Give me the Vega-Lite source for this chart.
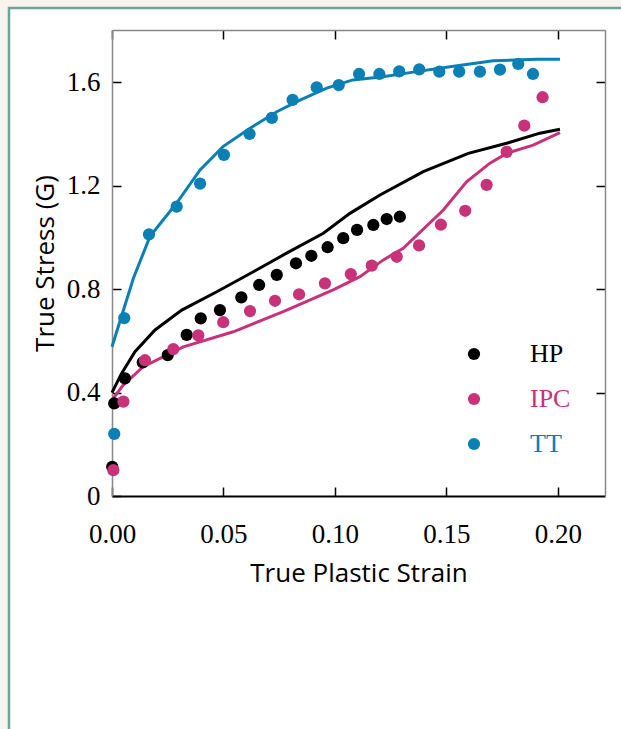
{
  "$schema": "https://vega.github.io/schema/vega-lite/v6.json",
  "autosize": {"type": "none"},
  "width": 493,
  "height": 466,
  "padding": {"left": 112, "top": 30, "right": 16, "bottom": 233},
  "background": "#ffffff",
  "config": {
    "view": {"stroke": null},
    "axis": {"grid": false, "labelFlush": false, "labelOverlap": false, "labelFont": "Liberation Serif", "labelFontSize": 27, "labelColor": "#000", "titleFont": "Open Sans", "titleFontSize": 26, "titleFontWeight": "normal", "titleColor": "#000", "tickColor": "#000", "domainColor": "#888"}
  },
  "datasets": {
    "d": [
      {"series": "TT", "kind": "pt", "strain": 0.001, "stress": 0.24},
      {"series": "TT", "kind": "pt", "strain": 0.0055, "stress": 0.688},
      {"series": "TT", "kind": "pt", "strain": 0.0166, "stress": 1.012},
      {"series": "TT", "kind": "pt", "strain": 0.029, "stress": 1.119},
      {"series": "TT", "kind": "pt", "strain": 0.0395, "stress": 1.208},
      {"series": "TT", "kind": "pt", "strain": 0.0502, "stress": 1.319},
      {"series": "TT", "kind": "pt", "strain": 0.0617, "stress": 1.4},
      {"series": "TT", "kind": "pt", "strain": 0.0717, "stress": 1.462},
      {"series": "TT", "kind": "pt", "strain": 0.081, "stress": 1.532},
      {"series": "TT", "kind": "pt", "strain": 0.0918, "stress": 1.58},
      {"series": "TT", "kind": "pt", "strain": 0.1017, "stress": 1.589},
      {"series": "TT", "kind": "pt", "strain": 0.1108, "stress": 1.632},
      {"series": "TT", "kind": "pt", "strain": 0.1199, "stress": 1.632},
      {"series": "TT", "kind": "pt", "strain": 0.1288, "stress": 1.642},
      {"series": "TT", "kind": "pt", "strain": 0.1378, "stress": 1.65},
      {"series": "TT", "kind": "pt", "strain": 0.1468, "stress": 1.641},
      {"series": "TT", "kind": "pt", "strain": 0.1557, "stress": 1.641},
      {"series": "TT", "kind": "pt", "strain": 0.165, "stress": 1.641},
      {"series": "TT", "kind": "pt", "strain": 0.174, "stress": 1.649},
      {"series": "TT", "kind": "pt", "strain": 0.1822, "stress": 1.671},
      {"series": "TT", "kind": "pt", "strain": 0.1888, "stress": 1.632},
      {"series": "TT", "kind": "ln", "strain": 0.0, "stress": 0.577},
      {"series": "TT", "kind": "ln", "strain": 0.0096, "stress": 0.842},
      {"series": "TT", "kind": "ln", "strain": 0.017, "stress": 1.003},
      {"series": "TT", "kind": "ln", "strain": 0.029, "stress": 1.133},
      {"series": "TT", "kind": "ln", "strain": 0.0395, "stress": 1.261},
      {"series": "TT", "kind": "ln", "strain": 0.0498, "stress": 1.351},
      {"series": "TT", "kind": "ln", "strain": 0.0619, "stress": 1.422},
      {"series": "TT", "kind": "ln", "strain": 0.0739, "stress": 1.486},
      {"series": "TT", "kind": "ln", "strain": 0.0843, "stress": 1.531},
      {"series": "TT", "kind": "ln", "strain": 0.0963, "stress": 1.577},
      {"series": "TT", "kind": "ln", "strain": 0.108, "stress": 1.609},
      {"series": "TT", "kind": "ln", "strain": 0.1215, "stress": 1.621},
      {"series": "TT", "kind": "ln", "strain": 0.1366, "stress": 1.641},
      {"series": "TT", "kind": "ln", "strain": 0.1516, "stress": 1.66},
      {"series": "TT", "kind": "ln", "strain": 0.171, "stress": 1.683},
      {"series": "TT", "kind": "ln", "strain": 0.1904, "stress": 1.689},
      {"series": "TT", "kind": "ln", "strain": 0.2009, "stress": 1.689},
      {"series": "HP", "kind": "pt", "strain": 0.0001, "stress": 0.113},
      {"series": "HP", "kind": "pt", "strain": 0.001, "stress": 0.358},
      {"series": "HP", "kind": "pt", "strain": 0.0058, "stress": 0.455},
      {"series": "HP", "kind": "pt", "strain": 0.0138, "stress": 0.517},
      {"series": "HP", "kind": "pt", "strain": 0.025, "stress": 0.545},
      {"series": "HP", "kind": "pt", "strain": 0.0335, "stress": 0.623},
      {"series": "HP", "kind": "pt", "strain": 0.0398, "stress": 0.687},
      {"series": "HP", "kind": "pt", "strain": 0.0484, "stress": 0.719},
      {"series": "HP", "kind": "pt", "strain": 0.058, "stress": 0.768},
      {"series": "HP", "kind": "pt", "strain": 0.066, "stress": 0.816},
      {"series": "HP", "kind": "pt", "strain": 0.0739, "stress": 0.855},
      {"series": "HP", "kind": "pt", "strain": 0.0825, "stress": 0.9},
      {"series": "HP", "kind": "pt", "strain": 0.0894, "stress": 0.929},
      {"series": "HP", "kind": "pt", "strain": 0.0967, "stress": 0.962},
      {"series": "HP", "kind": "pt", "strain": 0.1037, "stress": 0.997},
      {"series": "HP", "kind": "pt", "strain": 0.1099, "stress": 1.029},
      {"series": "HP", "kind": "pt", "strain": 0.1172, "stress": 1.048},
      {"series": "HP", "kind": "pt", "strain": 0.1232, "stress": 1.071},
      {"series": "HP", "kind": "pt", "strain": 0.1291, "stress": 1.08},
      {"series": "HP", "kind": "ln", "strain": 0.0, "stress": 0.4},
      {"series": "HP", "kind": "ln", "strain": 0.0043, "stress": 0.474},
      {"series": "HP", "kind": "ln", "strain": 0.0103, "stress": 0.558},
      {"series": "HP", "kind": "ln", "strain": 0.0193, "stress": 0.642},
      {"series": "HP", "kind": "ln", "strain": 0.0313, "stress": 0.719},
      {"series": "HP", "kind": "ln", "strain": 0.047, "stress": 0.79},
      {"series": "HP", "kind": "ln", "strain": 0.0634, "stress": 0.867},
      {"series": "HP", "kind": "ln", "strain": 0.0783, "stress": 0.939},
      {"series": "HP", "kind": "ln", "strain": 0.0948, "stress": 1.016},
      {"series": "HP", "kind": "ln", "strain": 0.1067, "stress": 1.093},
      {"series": "HP", "kind": "ln", "strain": 0.1202, "stress": 1.164},
      {"series": "HP", "kind": "ln", "strain": 0.1396, "stress": 1.254},
      {"series": "HP", "kind": "ln", "strain": 0.1598, "stress": 1.325},
      {"series": "HP", "kind": "ln", "strain": 0.177, "stress": 1.364},
      {"series": "HP", "kind": "ln", "strain": 0.1919, "stress": 1.403},
      {"series": "HP", "kind": "ln", "strain": 0.2009, "stress": 1.418},
      {"series": "IPC", "kind": "pt", "strain": 0.0006, "stress": 0.1},
      {"series": "IPC", "kind": "pt", "strain": 0.0051, "stress": 0.365},
      {"series": "IPC", "kind": "pt", "strain": 0.0148, "stress": 0.525},
      {"series": "IPC", "kind": "pt", "strain": 0.0275, "stress": 0.568},
      {"series": "IPC", "kind": "pt", "strain": 0.0387, "stress": 0.621},
      {"series": "IPC", "kind": "pt", "strain": 0.0499, "stress": 0.672},
      {"series": "IPC", "kind": "pt", "strain": 0.0619, "stress": 0.715},
      {"series": "IPC", "kind": "pt", "strain": 0.0731, "stress": 0.755},
      {"series": "IPC", "kind": "pt", "strain": 0.0839, "stress": 0.78},
      {"series": "IPC", "kind": "pt", "strain": 0.0955, "stress": 0.822},
      {"series": "IPC", "kind": "pt", "strain": 0.1071, "stress": 0.858},
      {"series": "IPC", "kind": "pt", "strain": 0.1165, "stress": 0.891},
      {"series": "IPC", "kind": "pt", "strain": 0.1277, "stress": 0.925},
      {"series": "IPC", "kind": "pt", "strain": 0.1377, "stress": 0.969},
      {"series": "IPC", "kind": "pt", "strain": 0.1475, "stress": 1.049},
      {"series": "IPC", "kind": "pt", "strain": 0.1584, "stress": 1.103},
      {"series": "IPC", "kind": "pt", "strain": 0.168, "stress": 1.203},
      {"series": "IPC", "kind": "pt", "strain": 0.177, "stress": 1.331},
      {"series": "IPC", "kind": "pt", "strain": 0.1849, "stress": 1.432},
      {"series": "IPC", "kind": "pt", "strain": 0.1931, "stress": 1.542},
      {"series": "IPC", "kind": "ln", "strain": 0.0, "stress": 0.371},
      {"series": "IPC", "kind": "ln", "strain": 0.005, "stress": 0.429},
      {"series": "IPC", "kind": "ln", "strain": 0.014, "stress": 0.5},
      {"series": "IPC", "kind": "ln", "strain": 0.032, "stress": 0.577},
      {"series": "IPC", "kind": "ln", "strain": 0.0544, "stress": 0.635},
      {"series": "IPC", "kind": "ln", "strain": 0.0768, "stress": 0.713},
      {"series": "IPC", "kind": "ln", "strain": 0.0992, "stress": 0.797},
      {"series": "IPC", "kind": "ln", "strain": 0.1112, "stress": 0.848},
      {"series": "IPC", "kind": "ln", "strain": 0.1217, "stress": 0.913},
      {"series": "IPC", "kind": "ln", "strain": 0.1306, "stress": 0.958},
      {"series": "IPC", "kind": "ln", "strain": 0.1486, "stress": 1.106},
      {"series": "IPC", "kind": "ln", "strain": 0.159, "stress": 1.215},
      {"series": "IPC", "kind": "ln", "strain": 0.1695, "stress": 1.287},
      {"series": "IPC", "kind": "ln", "strain": 0.177, "stress": 1.325},
      {"series": "IPC", "kind": "ln", "strain": 0.1889, "stress": 1.357},
      {"series": "IPC", "kind": "ln", "strain": 0.2009, "stress": 1.405}
    ],
    "frame": [{"name": "panel"}]
  },
  "layer": [
    {
      "data": {"name": "frame"},
      "mark": {"type": "rect", "fill": null, "stroke": "#f8f3ec", "strokeWidth": 8, "clip": false},
      "encoding": {
        "x": {"datum": -0.0484, "type": "quantitative", "axis": null, "scale": {"domain": [0, 0.2211], "nice": false, "zero": false}},
        "x2": {"datum": 0.35},
        "y": {"datum": 1.9045, "type": "quantitative", "axis": null, "scale": {"domain": [0, 1.802], "nice": false, "zero": false}},
        "y2": {"datum": -1.2}
      }
    },
    {
      "data": {"name": "frame"},
      "mark": {"type": "rect", "fill": null, "stroke": "#6aa696", "strokeWidth": 2.5, "clip": false},
      "encoding": {
        "x": {"datum": -0.0462, "type": "quantitative", "axis": null},
        "x2": {"datum": 0.35},
        "y": {"datum": 1.887, "type": "quantitative", "axis": null},
        "y2": {"datum": -1.2}
      }
    },
    {
      "data": {"name": "d"},
      "transform": [{"filter": "datum.kind == 'ln'"}],
      "mark": {"type": "line", "strokeWidth": 3},
      "encoding": {
        "x": {"field": "strain", "type": "quantitative", "scale": {"domain": [0, 0.2211], "nice": false, "zero": false},
          "axis": {"orient": "bottom", "values": [0, 0.05, 0.1, 0.15, 0.2], "format": ".2f", "tickSize": -9, "tickWidth": 1.5, "domainColor": "#000", "domainWidth": 2, "labelPadding": 34, "title": "True Plastic Strain", "titlePadding": 13}},
        "y": {"field": "stress", "type": "quantitative", "scale": {"domain": [0, 1.802], "nice": false, "zero": false},
          "axis": {"orient": "left", "values": [0, 0.4, 0.8, 1.2, 1.6], "labelExpr": "datum.value == 0 ? '0' : format(datum.value, '.1f')", "tickSize": -9, "tickWidth": 1.5, "domainWidth": 1.5, "labelPadding": 21, "title": "True Stress (G)", "titlePadding": 8}},
        "stroke": {"field": "series", "type": "nominal", "scale": {"domain": ["TT", "IPC", "HP"], "range": ["#0a80b5", "#c83279", "#000000"]}, "legend": null},
        "detail": {"field": "series"}
      }
    },
    {
      "data": {"name": "d"},
      "transform": [{"filter": "datum.kind == 'pt'"}],
      "mark": {"type": "point", "filled": true, "opacity": 1, "size": 150},
      "encoding": {
        "x": {"field": "strain", "type": "quantitative", "axis": {"orient": "top", "values": [0, 0.05, 0.1, 0.15, 0.2], "labels": false, "tickSize": -9, "tickWidth": 1.5, "domainWidth": 1.5, "title": null}},
        "y": {"field": "stress", "type": "quantitative", "axis": {"orient": "right", "values": [0.4, 0.8, 1.2, 1.6], "labels": false, "tickSize": -9, "tickWidth": 1.5, "domainWidth": 1.5, "title": null}},
        "color": {"field": "series", "type": "nominal", "scale": {"domain": ["HP", "IPC", "TT"], "range": ["#000000", "#c83279", "#0a80b5"]},
          "legend": {"orient": "none", "legendX": 349, "legendY": 311, "title": null, "symbolType": "circle", "symbolSize": 150, "symbolStrokeWidth": 0, "labelFont": "Liberation Serif", "labelFontSize": 26, "labelOffset": 43, "rowPadding": 19, "padding": 0,
            "labelColor": {"expr": "datum.value == 'IPC' ? '#c83279' : (datum.value == 'TT' ? '#0a80b5' : '#000000')"}}}
      }
    }
  ],
  "resolve": {"axis": {"x": "independent", "y": "independent"}}
}
